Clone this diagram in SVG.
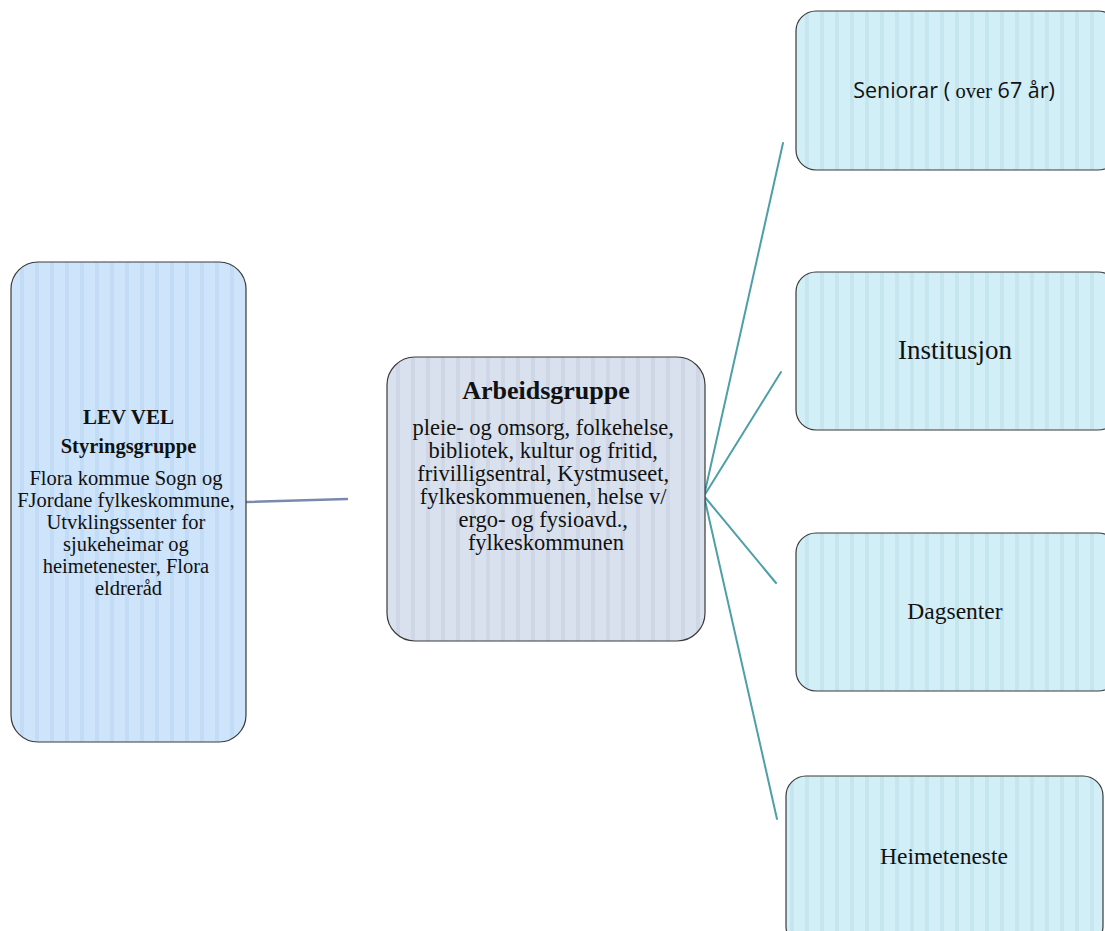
<svg xmlns="http://www.w3.org/2000/svg" width="1105" height="931" viewBox="0 0 1105 931">
<style>
.box{stroke:#3a3a3a;stroke-width:1.2}
.serif{font-family:"Liberation Serif","Times New Roman",serif;fill:#111}
.sans{font-family:"Open Sans","Liberation Sans",Arial,sans-serif;fill:#111}
.b{font-weight:bold}
.c{text-anchor:middle}
</style>
<defs>
<pattern id="pL" patternUnits="userSpaceOnUse" width="15" height="10" x="11" y="0">
<rect width="15" height="10" fill="#cde4fb"/><rect x="9" width="4" height="10" fill="#c3dcf6"/>
</pattern>
<pattern id="pM" patternUnits="userSpaceOnUse" width="15" height="10" x="387" y="0">
<rect width="15" height="10" fill="#d9e1ee"/><rect x="9" width="4" height="10" fill="#cfd7e6"/>
</pattern>
<pattern id="pR" patternUnits="userSpaceOnUse" width="15" height="10" x="796" y="0">
<rect width="15" height="10" fill="#d2eef7"/><rect x="9" width="4" height="10" fill="#c6e6ef"/>
</pattern>
</defs>
<rect width="1105" height="931" fill="#fff"/>
<g id="connectors" fill="none" stroke-linecap="round">
<line x1="246" y1="502" x2="347" y2="499" stroke="#7a8aab" stroke-width="2.5"/>
<g stroke="#4d9fa8" stroke-width="2">
<line x1="704" y1="496" x2="783" y2="143"/>
<line x1="704" y1="496" x2="781" y2="372"/>
<line x1="704" y1="496" x2="776" y2="583"/>
<line x1="704" y1="496" x2="777" y2="819"/>
</g>
</g>
<g id="styringsgruppe">
<rect class="box" x="11" y="262" width="235" height="480" rx="27" fill="url(#pL)"/>
<text class="serif b c" x="128.5" y="424" font-size="21">LEV VEL</text>
<text class="serif b c" x="128.5" y="453" font-size="20.5">Styringsgruppe</text>
<text class="serif c" font-size="20.5">
<tspan x="128.5" y="485">Flora kommue Sogn og</tspan>
<tspan x="128.5" y="507">FJordane fylkeskommune,</tspan>
<tspan x="128.5" y="529">Utvklingssenter for</tspan>
<tspan x="128.5" y="551">sjukeheimar og</tspan>
<tspan x="128.5" y="573">heimetenester, Flora</tspan>
<tspan x="128.5" y="595">eldreråd</tspan>
</text>
</g>
<g id="arbeidsgruppe">
<rect class="box" x="387" y="357" width="318" height="284" rx="28" fill="url(#pM)"/>
<text class="serif b c" x="546" y="399" font-size="26">Arbeidsgruppe</text>
<text class="serif c" font-size="22.5">
<tspan x="546" y="435">pleie- og omsorg, folkehelse,</tspan>
<tspan x="546" y="458">bibliotek, kultur og fritid,</tspan>
<tspan x="546" y="481">frivilligsentral, Kystmuseet,</tspan>
<tspan x="546" y="504">fylkeskommuenen, helse v/</tspan>
<tspan x="546" y="527">ergo- og fysioavd.,</tspan>
<tspan x="546" y="550">fylkeskommunen</tspan>
</text>
</g>
<g id="seniorar">
<rect class="box" x="796" y="11" width="322" height="159" rx="20" fill="url(#pR)"/>
<text class="c" x="954" y="98" font-size="21.5"><tspan class="sans">Seniorar ( </tspan><tspan class="serif" font-size="20.5">over</tspan><tspan class="sans"> 67 år)</tspan></text>
</g>
<g id="institusjon">
<rect class="box" x="796" y="272" width="322" height="158" rx="20" fill="url(#pR)"/>
<text class="serif c" x="955" y="359" font-size="27">Institusjon</text>
</g>
<g id="dagsenter">
<rect class="box" x="796" y="533" width="322" height="158" rx="20" fill="url(#pR)"/>
<text class="serif c" x="955" y="619" font-size="23.5">Dagsenter</text>
</g>
<g id="heimeteneste">
<rect class="box" x="786" y="776" width="317" height="170" rx="20" fill="url(#pR)"/>
<text class="serif c" x="944" y="864" font-size="23.5">Heimeteneste</text>
</g>
</svg>
